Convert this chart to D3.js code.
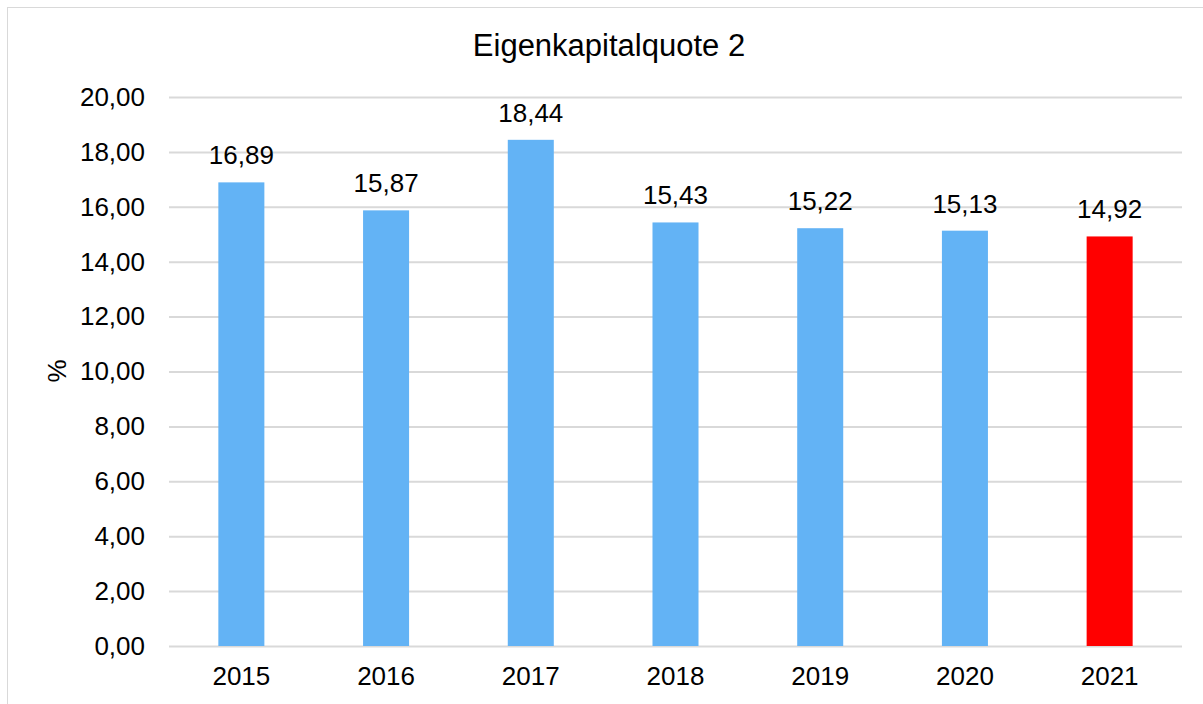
<!DOCTYPE html>
<html>
<head>
<meta charset="utf-8">
<script src="https://cdn.jsdelivr.net/npm/d3@7"></script>
<style>
  body { margin: 0; background: #fff; }
  svg text { font-family: "Liberation Sans", Arial, sans-serif; fill: #000; }
</style>
</head>
<body>
<svg id="chart" width="1203" height="704"></svg>
<script>
// data
var years = ['2015', '2016', '2017', '2018', '2019', '2020', '2021'];
var values = [16.89, 15.87, 18.44, 15.43, 15.22, 15.13, 14.92];
var barColors = ['#63b3f5', '#63b3f5', '#63b3f5', '#63b3f5', '#63b3f5', '#63b3f5', '#ff0000'];
var yTicks = [0, 2, 4, 6, 8, 10, 12, 14, 16, 18, 20];
var title = 'Eigenkapitalquote 2';
var yLabel = '%';

var svg = d3.select('#chart');
var plot = { left: 169, right: 1182, top: 97, bottom: 646 };

var fmt = function(v){ return v.toFixed(2).replace('.', ','); };

// chart border
svg.append('rect')
	.attr('x', 7.5).attr('y', 7.5)
	.attr('width', 1210).attr('height', 710)
	.attr('fill', 'none')
	.attr('stroke', '#d9d9d9')
	.attr('stroke-width', 1);

var x = d3.scaleBand()
	.domain(years)
	.range([plot.left, plot.right])
	.paddingInner(0.682)
	.paddingOuter(0.341);

var y = d3.scaleLinear()
	.domain([0, 20])
	.range([plot.bottom, plot.top]);

// gridlines + y labels
var yAxis = svg.append('g')
	.attr('transform', 'translate(' + plot.left + ',0)')
	.call(d3.axisLeft(y).tickValues(yTicks).tickFormat(fmt)
		.tickSize(-(plot.right - plot.left)).tickPadding(24));
yAxis.select('.domain').remove();
yAxis.selectAll('.tick line').attr('stroke', '#d9d9d9').attr('stroke-width', 2);
yAxis.selectAll('.tick text')
	.attr('font-size', 26)
	.attr('font-family', '"Liberation Sans", Arial, sans-serif')
	.attr('fill', '#000');

// bars
svg.selectAll('rect.bar')
	.data(values)
	.enter().append('rect')
	.attr('class', 'bar')
	.attr('x', function(d, i){ return x(years[i]); })
	.attr('y', function(d){ return y(d); })
	.attr('width', x.bandwidth())
	.attr('height', function(d){ return y(0) - y(d); })
	.attr('fill', function(d, i){ return barColors[i]; });

// data labels
svg.selectAll('text.val')
	.data(values)
	.enter().append('text')
	.attr('class', 'val')
	.attr('x', function(d, i){ return x(years[i]) + x.bandwidth() / 2; })
	.attr('y', function(d){ return y(d) - 18; })
	.attr('text-anchor', 'middle')
	.attr('font-size', 26)
	.text(fmt);

// x axis labels
var xAxis = svg.append('g')
	.attr('transform', 'translate(0,' + plot.bottom + ')')
	.call(d3.axisBottom(x).tickSize(0).tickPadding(21));
xAxis.select('.domain').remove();
xAxis.selectAll('.tick text')
	.attr('font-size', 26)
	.attr('font-family', '"Liberation Sans", Arial, sans-serif')
	.attr('fill', '#000');

// title
svg.append('text')
	.attr('x', 609).attr('y', 56)
	.attr('text-anchor', 'middle')
	.attr('font-size', 31)
	.text(title);

// y axis title
svg.append('text')
	.attr('transform', 'translate(66,371) rotate(-90)')
	.attr('text-anchor', 'middle')
	.attr('font-size', 26)
	.text(yLabel);
</script>
</body>
</html>
